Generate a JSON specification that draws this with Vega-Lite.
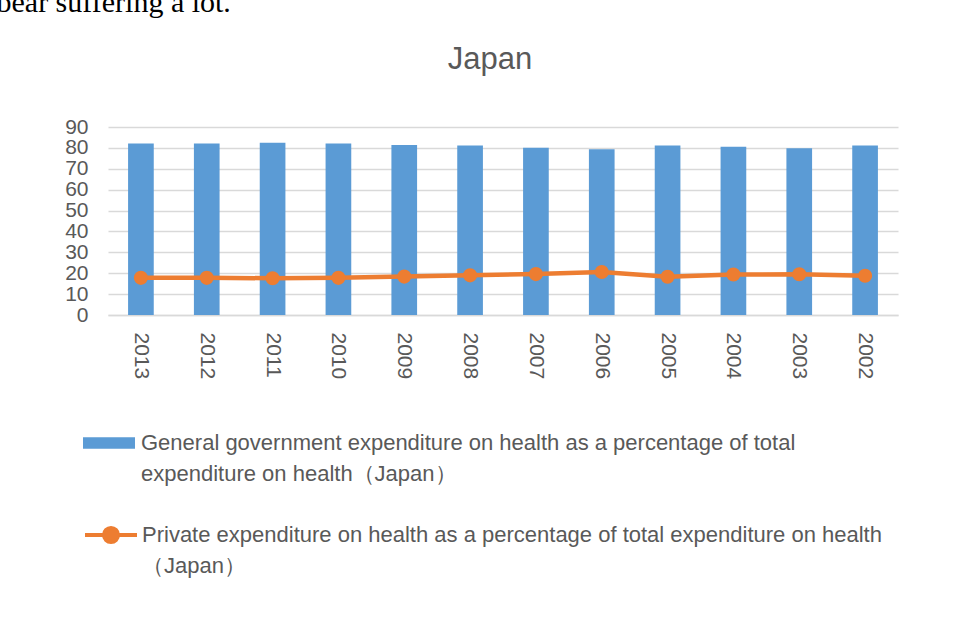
{
  "$schema": "https://vega.github.io/schema/vega-lite/v6.json",
  "width": 790,
  "height": 188,
  "autosize": {"type": "none"},
  "padding": {"left": 108, "top": 127, "right": 59, "bottom": 320},
  "background": "white",
  "title": {
    "text": "Japan",
    "font": "Liberation Sans",
    "fontSize": 31,
    "fontWeight": "normal",
    "color": "#595959",
    "anchor": "middle",
    "dx": -13,
    "baseline": "alphabetic",
    "offset": -113
  },
  "config": {
    "view": {"stroke": null},
    "style": {"guide-label": {"lineHeight": 31}},
    "axisY": {"tickCount": 10, "labelOverlap": false}
  },
  "data": {
    "values": [
      {"year": "2013", "government": 82.1, "private": 17.8},
      {"year": "2012", "government": 82.1, "private": 17.8},
      {"year": "2011", "government": 82.5, "private": 17.6},
      {"year": "2010", "government": 82.1, "private": 17.8},
      {"year": "2009", "government": 81.4, "private": 18.4},
      {"year": "2008", "government": 81.1, "private": 19.0},
      {"year": "2007", "government": 80.1, "private": 19.6},
      {"year": "2006", "government": 79.3, "private": 20.6},
      {"year": "2005", "government": 81.2, "private": 18.3},
      {"year": "2004", "government": 80.6, "private": 19.4},
      {"year": "2003", "government": 79.8, "private": 19.5},
      {"year": "2002", "government": 81.2, "private": 18.8}
    ]
  },
  "encoding": {
    "x": {
      "field": "year",
      "type": "nominal",
      "sort": null,
      "scale": {"paddingInner": 0.61, "paddingOuter": 0.305},
      "axis": {
        "title": null,
        "labelAngle": 90,
        "labelFont": "Liberation Sans",
        "labelFontSize": 21,
        "labelColor": "#595959",
        "labelPadding": 17,
        "ticks": false,
        "domainColor": "#D9D9D9",
        "domainWidth": 1.5,
        "grid": false
      }
    }
  },
  "layer": [
    {
      "mark": {"type": "bar"},
      "encoding": {
        "y": {
          "field": "government",
          "type": "quantitative",
          "scale": {"domain": [0, 90], "nice": false},
          "axis": {
            "values": [0, 10, 20, 30, 40, 50, 60, 70, 80, 90],
            "tickCount": 10,
            "labelOverlap": false,
            "domain": false,
            "ticks": false,
            "grid": true,
            "gridColor": "#D9D9D9",
            "gridWidth": 1.5,
            "labelFont": "Liberation Sans",
            "labelFontSize": 21,
            "labelColor": "#595959",
            "labelPadding": 20,
            "title": "bear suffering a lot.",
            "titleAngle": 0,
            "titleAlign": "left",
            "titleBaseline": "alphabetic",
            "titleX": -112,
            "titleY": -116,
            "titleFont": "Liberation Serif",
            "titleFontSize": 30,
            "titleFontWeight": "normal",
            "titleColor": "#000000",
            "titleLimit": 1000
          }
        },
        "fill": {
          "datum": "General government expenditure on health as a percentage of total expenditure on health（Japan）",
          "scale": {"range": ["#5B9BD5"]},
          "legend": {
            "title": null,
            "orient": "none",
            "legendX": -25,
            "legendY": 290,
            "padding": 0,
            "symbolType": "M-1,-0.22H1V0.22H-1Z",
            "symbolSize": 2704,
            "symbolStrokeWidth": 0,
            "labelFont": "Liberation Sans",
            "labelFontSize": 22,
            "labelColor": "#595959",
            "labelBaseline": "middle",
            "labelOffset": 6,
            "labelLimit": 1000,
            "labelExpr": "['General government expenditure on health as a percentage of total', 'expenditure on health（Japan）']"
          }
        }
      }
    },
    {
      "mark": {"type": "line", "strokeWidth": 4.5, "color": "#ED7D31"},
      "encoding": {
        "y": {
          "field": "private",
          "type": "quantitative",
          "axis": {"values": [0, 10, 20, 30, 40, 50, 60, 70, 80, 90], "tickCount": 10, "labelOverlap": false}
        },
        "stroke": {
          "datum": "Private expenditure on health as a percentage of total expenditure on health（Japan）",
          "scale": {"range": ["#ED7D31"]},
          "legend": {
            "title": null,
            "orient": "none",
            "legendX": -25,
            "legendY": 380,
            "padding": 0,
            "symbolType": "M-1,0H1M-0.27,0A0.27,0.27,0,1,1,0.27,0A0.27,0.27,0,1,1,-0.27,0Z",
            "symbolSize": 2704,
            "symbolStrokeWidth": 4,
            "symbolFillColor": "#ED7D31",
            "symbolStrokeColor": "#ED7D31",
            "labelFont": "Liberation Sans",
            "labelFontSize": 22,
            "labelColor": "#595959",
            "labelBaseline": "middle",
            "labelOffset": 3,
            "labelLimit": 1000,
            "labelExpr": "['Private expenditure on health as a percentage of total expenditure on health', '（Japan）']"
          }
        }
      }
    },
    {
      "mark": {"type": "point", "filled": true, "size": 200, "color": "#ED7D31", "opacity": 1},
      "encoding": {
        "y": {
          "field": "private",
          "type": "quantitative",
          "axis": {"values": [0, 10, 20, 30, 40, 50, 60, 70, 80, 90], "tickCount": 10, "labelOverlap": false}
        }
      }
    }
  ]
}
